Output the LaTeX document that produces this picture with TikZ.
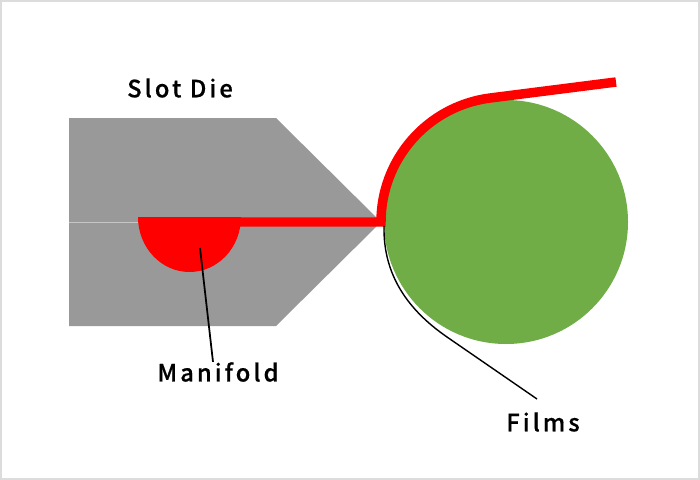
\documentclass[tikz,border=0pt]{standalone}
\usepackage{fontspec}
\setmainfont{Noto Sans}
\newfontfamily\labelfont[LetterSpace=13,FakeBold=0.6]{Noto Sans CJK JP Medium}
\definecolor{diegray}{HTML}{999999}
\definecolor{rollgreen}{HTML}{70AD47}
\definecolor{framegray}{HTML}{DCDCDC}
\tikzset{
  caption/.style={font=\fontsize{13.5}{16}\selectfont\labelfont, text=black, inner sep=0pt},
  film/.style={red, line width=5.4pt},
  leader/.style={black, line width=1pt}
}
\begin{document}
\begin{tikzpicture}[x=0.02cm, y=-0.02cm]
      % Frame
\useasboundingbox (0,0) rectangle (700,480);
\draw[framegray, line width=1.1pt, fill=white] (1,1) rectangle (699,479);

% Die
\fill[diegray] (69,118) -- (276,118) -- (381,222) -- (276,326) -- (69,326) -- cycle;
\draw[gray!45, line width=0.5pt] (69,222) -- (138,222);

% Roll
\fill[rollgreen] (506,222) circle [radius=122];

% Manifold
\fill[red] (138,217) -- (241,217) arc [start angle=0, end angle=180, x radius=51.5, y radius=55] -- cycle;

% Film
\draw[film] (190,222) -- (381,222) arc [start angle=180, end angle=262, radius=125] -- (616,82);

% Labels
\node[caption] (slotdie) at (180,88) {Slot Die};
\node[caption] (manifold) at (218,372) {Manifold};
\node[caption] (films) at (543,422) {Films};

% Leaders
\coordinate (manifoldtip) at (200,248);
\coordinate (filmstart) at (384,226);
\draw[leader] (manifoldtip) -- (manifold.north -| 213,0);
\draw[black, line width=0.8pt] (filmstart) .. controls (383,275) and (408,310) .. (447,337) -- (537,399);

    \end{tikzpicture}
\end{document}
